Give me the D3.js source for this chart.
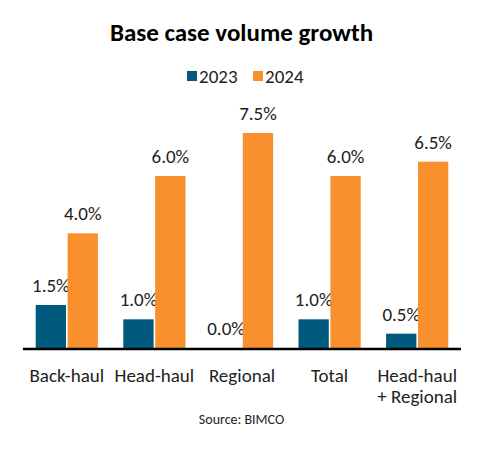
<!DOCTYPE html>
<html><head><meta charset="utf-8">
<script src="https://cdn.jsdelivr.net/npm/d3@7"></script>
<style>body{margin:0;background:#fff}svg{display:block}text{font-family:Carlito,Lato,"Open Sans",sans-serif}</style>
</head><body><svg id="c" width="483" height="455"></svg>
<script>
const categories = [["Back-haul"],["Head-haul"],["Regional"],["Total"],["Head-haul","+ Regional"]];
const series = ["2023","2024"];
const values2023 = [1.5, 1.0, 0.0, 1.0, 0.5];
const values2024 = [4.0, 6.0, 7.5, 6.0, 6.5];
const colors = ["#005A7D", "#F7902D"];

const svg = d3.select("#c");
const baseY = 348, left = 23, right = 461;
const x = d3.scaleBand().domain(d3.range(categories.length)).range([left, right]).paddingInner(0.29).paddingOuter(0.145);
const xs = d3.scaleBand().domain(series).range([0, x.bandwidth()]).paddingInner(0.05);
const y = d3.scaleLinear().domain([0, 7.5]).range([baseY, 133]);

svg.append("text").attr("x", 241.5).attr("y", 41).attr("text-anchor", "middle")
  .attr("font-size", 25).attr("font-weight", "bold").attr("fill", "#000").text("Base case volume growth");

// legend
const lg = svg.append("g");
const legendItems = [{s:"2023", x:187},{s:"2024", x:253}];
legendItems.forEach((d,i)=>{
  lg.append("rect").attr("x", d.x).attr("y", 71).attr("width", 10).attr("height", 10).attr("fill", colors[i]);
  lg.append("text").attr("x", d.x+12).attr("y", 83).attr("font-size", 19).attr("fill", "#222").text(d.s);
});

const data = categories.map((c,i)=>({i, v:[values2023[i], values2024[i]]}));
const g = svg.append("g");
data.forEach(d=>{
  series.forEach((s,j)=>{
    const v = d.v[j];
    const bx = x(d.i) + xs(s);
    g.append("rect").attr("x", bx).attr("y", y(v)).attr("width", xs.bandwidth()).attr("height", baseY - y(v)).attr("fill", colors[j]);
    g.append("text").attr("x", bx + xs.bandwidth()/2).attr("y", y(v) - 13).attr("text-anchor", "middle")
      .attr("font-size", 19).attr("fill", "#222").text(v.toFixed(1) + "%");
  });
});

svg.append("line").attr("x1", left).attr("x2", right).attr("y1", baseY+1).attr("y2", baseY+1)
  .attr("stroke", "#000").attr("stroke-width", 2.5);

categories.forEach((c,i)=>{
  const t = svg.append("text").attr("text-anchor", "middle").attr("font-size", 19).attr("fill", "#222");
  c.forEach((line,k)=>{
    t.append("tspan").attr("x", x(i) + x.bandwidth()/2).attr("y", 382 + k*21).text(line);
  });
});

svg.append("text").attr("x", 241.5).attr("y", 424).attr("text-anchor", "middle")
  .attr("font-size", 14).attr("fill", "#222").text("Source: BIMCO");
</script></body></html>
